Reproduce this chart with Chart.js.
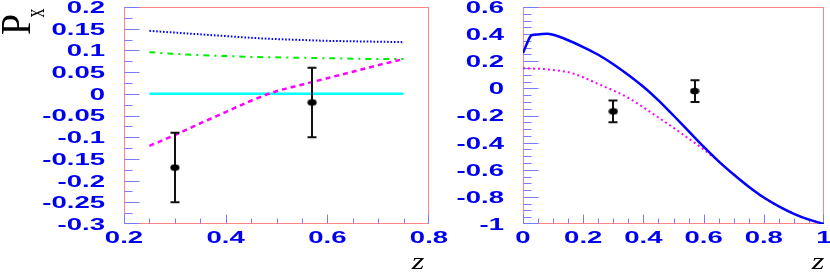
<!DOCTYPE html>
<html><head><meta charset="utf-8">
<script src="https://cdn.jsdelivr.net/npm/chart.js@4/dist/chart.umd.min.js"></script>
<style>
html,body{margin:0;padding:0;background:#fff;overflow:hidden;}
#wrap{position:relative;width:830px;height:273px;background:#fff;}
canvas{position:absolute;top:0;}
#c1{left:0;width:460px;height:273px;}
#c2{left:440px;width:390px;height:273px;}
</style></head><body>
<div id="wrap"><canvas id="c1" width="460" height="273"></canvas><canvas id="c2" width="390" height="273"></canvas></div>
<script>
// ---------- data ----------
const leftZ       = [0.25, 0.30, 0.35, 0.40, 0.45, 0.50, 0.55, 0.60, 0.65, 0.70, 0.75];
const leftBlue    = [0.145, 0.141, 0.137, 0.133, 0.129, 0.126, 0.124, 0.122, 0.121, 0.120, 0.119];
const leftGreen   = [0.096, 0.092, 0.089, 0.087, 0.085, 0.084, 0.083, 0.082, 0.081, 0.080, 0.080];
const leftCyan    = [0, 0, 0, 0, 0, 0, 0, 0, 0, 0, 0];
const leftMagenta = [-0.120, -0.095, -0.068, -0.042, -0.016, 0.006, 0.021, 0.036, 0.051, 0.066, 0.080];

const rightZ       = [0, 0.015, 0.028, 0.05, 0.08, 0.10, 0.15, 0.20, 0.25, 0.30, 0.35, 0.40, 0.45, 0.50, 0.55, 0.60, 0.65, 0.70, 0.75, 0.80, 0.85, 0.90, 0.95, 1.00];
const rightBlue    = [0.26, 0.34, 0.392, 0.398, 0.403, 0.395, 0.355, 0.305, 0.248, 0.178, 0.099, 0.012, -0.088, -0.200, -0.315, -0.430, -0.538, -0.635, -0.725, -0.805, -0.870, -0.925, -0.968, -1.000];
const rightMagenta = [0.148, 0.147, 0.146, 0.145, 0.140, 0.135, 0.120, 0.082, 0.032, -0.015, -0.070, -0.140, -0.215, -0.290, -0.370, -0.450, -0.538, -0.635, -0.725, -0.805, -0.870, -0.925, -0.968, -1.000];

const measZ   = [0.30, 0.57];
const measP   = [-0.17, -0.02];
const measErr = [0.08, 0.08];

const leftXTicks  = ['0.2', '0.4', '0.6', '0.8'];
const leftYTicks  = ['0.2', '0.15', '0.1', '0.05', '0', '-0.05', '-0.1', '-0.15', '-0.2', '-0.25', '-0.3'];
const rightXTicks = ['0', '0.2', '0.4', '0.6', '0.8', '1'];
const rightYTicks = ['0.6', '0.4', '0.2', '0', '-0.2', '-0.4', '-0.6', '-0.8', '-1'];

// ---------- helpers ----------
const pts = (xs, ys) => xs.map((x, i) => ({x: x, y: ys[i]}));

const marker = document.createElement('canvas');
marker.width = 10; marker.height = 8;
(function(){
  const m = marker.getContext('2d');
  m.fillStyle = '#000';
  m.beginPath(); m.ellipse(5, 4, 4.6, 3.3, 0, 0, Math.PI * 2); m.fill();
})();

const FRAME = '#ff8484';
const TICK = '#7a7aff';
const LABEL = '#0000f0';

function wideText(ctx, txt, x, y, align, sx) {
  ctx.save();
  ctx.translate(x, y);
  ctx.scale(sx, 1);
  ctx.textAlign = align;
  ctx.textBaseline = 'middle';
  ctx.fillText(txt, 0, 0);
  ctx.restore();
}

function axesPlugin(o) {
  return {
    id: 'rootAxes',
    beforeDatasetsDraw(chart) {
      const ctx = chart.ctx, a = chart.chartArea, xs = chart.scales.x, ys = chart.scales.y;
      const L = Math.round(a.left), R = Math.round(a.right), T = Math.round(a.top), B = Math.round(a.bottom);
      ctx.save();
      ctx.lineWidth = 1;
      ctx.strokeStyle = FRAME;
      ctx.strokeRect(L + 0.5, T + 0.5, R - L - 1, B - T - 1);
      ctx.strokeStyle = TICK;
      ctx.beginPath();
      const majX = o.xLabels.map(parseFloat), majY = o.yLabels.map(parseFloat);
      const n1 = Math.round((o.xMax - o.xMin) / o.xStep);
      for (let i = 0; i <= n1; i++) {
        const v = o.xMin + i * o.xStep;
        const major = majX.some(m => Math.abs(m - v) < 1e-6);
        const px = Math.round(xs.getPixelForValue(v)) + 0.5;
        const len = major ? 9 : 5;
        ctx.moveTo(Math.min(px, R - 0.5), B - 0.5); ctx.lineTo(Math.min(px, R - 0.5), B - 0.5 - len);
      }
      const n2 = Math.round((o.yMax - o.yMin) / o.yStep);
      for (let i = 0; i <= n2; i++) {
        const v = o.yMin + i * o.yStep;
        const major = majY.some(m => Math.abs(m - v) < 1e-6);
        const py = Math.round(ys.getPixelForValue(v)) + 0.5;
        const len = major ? 15 : 8;
        ctx.moveTo(L + 0.5, Math.min(py, B - 0.5)); ctx.lineTo(L + 0.5 + len, Math.min(py, B - 0.5));
      }
      ctx.stroke();
      ctx.restore();
    },
    beforeDatasetDraw(chart, args) {
      if (args.index !== 0) return;
      const ctx = chart.ctx, xs = chart.scales.x, ys = chart.scales.y;
      ctx.save();
      ctx.strokeStyle = '#111';
      ctx.lineWidth = 2;
      ctx.beginPath();
      measZ.forEach((z, i) => {
        const px = Math.round(xs.getPixelForValue(z));
        const top = ys.getPixelForValue(measP[i] + measErr[i]);
        const bot = ys.getPixelForValue(measP[i] - measErr[i]);
        ctx.moveTo(px, top); ctx.lineTo(px, bot);
        ctx.moveTo(px - 4.5, top); ctx.lineTo(px + 4.5, top);
        ctx.moveTo(px - 4.5, bot); ctx.lineTo(px + 4.5, bot);
      });
      ctx.stroke();
      ctx.restore();
    },
    afterDraw(chart) {
      const ctx = chart.ctx, a = chart.chartArea, xs = chart.scales.x, ys = chart.scales.y;
      ctx.save();
      ctx.fillStyle = LABEL;
      ctx.font = 'bold 16px "Liberation Sans", Arial, sans-serif';
      o.yLabels.forEach(t => {
        wideText(ctx, t, a.left - 19, ys.getPixelForValue(parseFloat(t)) + 1.5, 'right', 1.72);
      });
      o.xLabels.forEach(t => {
        wideText(ctx, t, xs.getPixelForValue(parseFloat(t)), a.bottom + 15, 'center', 1.72);
      });
      // axis title z
      ctx.fillStyle = '#000';
      ctx.font = 'italic 24px "Liberation Serif", "Times New Roman", serif';
      ctx.save();
      ctx.translate(o.zX, 269);
      ctx.scale(1.35, 1);
      ctx.textAlign = 'center';
      ctx.textBaseline = 'alphabetic';
      ctx.fillText('z', 0, 0);
      ctx.restore();
      if (o.yTitle) {
        ctx.save();
        ctx.translate(30, 35);
        ctx.rotate(-Math.PI / 2);
        ctx.scale(1.45, 1.6);
        ctx.font = '26px "Liberation Serif", "Times New Roman", serif';
        ctx.textAlign = 'left';
        ctx.textBaseline = 'alphabetic';
        ctx.fillText('P', 0, 0);
        ctx.restore();
        ctx.save();
        ctx.translate(44, 17.5);
        ctx.rotate(-Math.PI / 2);
        ctx.scale(1.0, 1.5);
        ctx.font = '18px "Liberation Serif", "Times New Roman", serif';
        ctx.textAlign = 'left';
        ctx.textBaseline = 'alphabetic';
        ctx.fillText('x', 0, 0);
        ctx.restore();
      }
      ctx.restore();
    }
  };
}

function scales(xmin, xmax, ymin, ymax, yw) {
  return {
    x: { type: 'linear', min: xmin, max: xmax,
         grid: {display: false}, border: {display: false}, ticks: {display: false},
         afterFit: s => { s.height = 49; } },
    y: { type: 'linear', min: ymin, max: ymax,
         grid: {display: false}, border: {display: false}, ticks: {display: false},
         afterFit: s => { s.width = yw; } }
  };
}

const common = {
  responsive: false, animation: false, devicePixelRatio: 1,
  plugins: { legend: {display: false}, tooltip: {enabled: false} },
  elements: { line: { cubicInterpolationMode: 'monotone', borderCapStyle: 'butt', fill: false }, point: { radius: 0 } }
};

const measDs = {
  type: 'scatter', data: pts(measZ, measP), pointStyle: marker, pointRadius: 5, showLine: false
};

new Chart(document.getElementById('c1'), {
  type: 'line',
  data: { datasets: [
    measDs,
    { data: pts(leftZ, leftMagenta), borderColor: '#ff00ff', borderWidth: 2.5, borderDash: [5, 4], pointRadius: 0 },
    { data: pts(leftZ, leftCyan), borderColor: '#00ffff', borderWidth: 2.5, pointRadius: 0 },
    { data: pts(leftZ, leftGreen), borderColor: '#00ee00', borderWidth: 2, borderDash: [6, 5, 2, 5], pointRadius: 0 },
    { data: pts(leftZ, leftBlue), borderColor: '#0000ff', borderWidth: 2, borderDash: [1.6, 1.8], pointRadius: 0 }
  ]},
  options: Object.assign({}, common, {
    layout: { padding: { left: 0, right: 31, top: 7, bottom: 0 } },
    scales: scales(0.2, 0.8, -0.3, 0.2, 124)
  }),
  plugins: [axesPlugin({xLabels: leftXTicks, yLabels: leftYTicks, xMin: 0.2, xMax: 0.8, xStep: 0.05,
                        yMin: -0.3, yMax: 0.2, yStep: 0.025, zX: 418, yTitle: true})]
});

new Chart(document.getElementById('c2'), {
  type: 'line',
  data: { datasets: [
    Object.assign({}, measDs, {data: pts(measZ, measP)}),
    { data: pts(rightZ, rightBlue), borderColor: '#0000ff', borderWidth: 2.5, pointRadius: 0 },
    { data: pts(rightZ, rightMagenta), borderColor: '#ff00ff', borderWidth: 2, borderDash: [2, 3], pointRadius: 0 }
  ]},
  options: Object.assign({}, common, {
    layout: { padding: { left: 0, right: 1, top: 7, bottom: 0 } },
    scales: scales(0, 1, -1, 0.6, 83)
  }),
  plugins: [axesPlugin({xLabels: rightXTicks, yLabels: rightYTicks, xMin: 0, xMax: 1, xStep: 0.05,
                        yMin: -1, yMax: 0.6, yStep: 0.05, zX: 378, yTitle: false})]
});
</script>
</body></html>
